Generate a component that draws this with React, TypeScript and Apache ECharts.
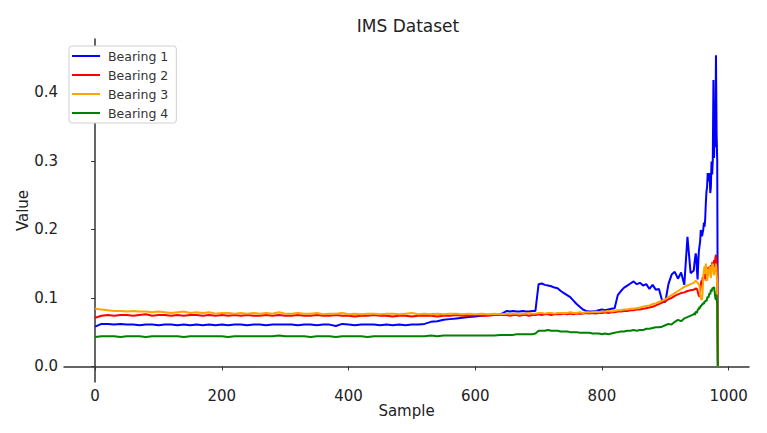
import React, { useEffect, useRef } from "react";
import * as echarts from "echarts";

// Sample index grids (x values)
const range = (a: number, b: number, step: number) => {
  const out: number[] = [];
  for (let v = a; v <= b; v += step) out.push(v);
  return out;
};
const samplesFlat = range(0, 640, 10);
const samplesMid = range(650, 940, 5);
const samplesTail = range(945, 983, 1);

const seriesNames = ["Bearing 1", "Bearing 2", "Bearing 3", "Bearing 4"];
const seriesColors = ["#0000ff", "#ff0000", "#ffa500", "#008000"];
const xTicks = [0, 200, 400, 600, 800, 1000];
const yTicks = [0, 0.1, 0.2, 0.3, 0.4];

// Bearing 1 (blue)
const b1Flat = [
  0.058, 0.062, 0.062, 0.061, 0.062, 0.061, 0.061, 0.060, 0.061, 0.061,
  0.060, 0.061, 0.061, 0.060, 0.061, 0.060, 0.061, 0.060, 0.061, 0.060,
  0.061, 0.060, 0.061, 0.061, 0.060, 0.061, 0.061, 0.060, 0.061, 0.061,
  0.061, 0.061, 0.060, 0.061, 0.061, 0.060, 0.061, 0.061, 0.059, 0.062,
  0.061, 0.060, 0.061, 0.061, 0.061, 0.060, 0.061, 0.060, 0.061, 0.060,
  0.061, 0.061, 0.062, 0.065, 0.066, 0.068, 0.069, 0.070, 0.071, 0.072,
  0.073, 0.074, 0.075, 0.075, 0.076,
];
const b1Mid = [
  0.081, 0.080, 0.081, 0.080, 0.080, 0.081, 0.080, 0.080, 0.081, 0.081,
  0.120, 0.121, 0.119, 0.118, 0.117, 0.115, 0.114, 0.110, 0.107, 0.104,
  0.101, 0.096, 0.091, 0.087, 0.083, 0.081, 0.080, 0.080, 0.081, 0.082,
  0.083, 0.082, 0.083, 0.084, 0.085, 0.104, 0.110, 0.115, 0.118, 0.121,
  0.124, 0.120, 0.122, 0.118, 0.120, 0.113, 0.119, 0.112, 0.113, 0.096,
  0.094, 0.120, 0.134, 0.138, 0.128, 0.137, 0.119, 0.189, 0.136,
];
const b1Tail = [
  0.140, 0.150, 0.158, 0.165, 0.160, 0.140, 0.127, 0.150, 0.168, 0.175,
  0.182, 0.199, 0.195, 0.190, 0.195, 0.200, 0.210, 0.204, 0.215, 0.238,
  0.255, 0.262, 0.282, 0.275, 0.270, 0.282, 0.253, 0.262, 0.299, 0.280,
  0.301, 0.418, 0.304, 0.350, 0.320, 0.454, 0.340, 0.300, 0.002,
];

// Bearing 2 (red)
const b2Flat = [
  0.071, 0.074, 0.075, 0.074, 0.075, 0.075, 0.074, 0.075, 0.076, 0.074,
  0.075, 0.075, 0.074, 0.075, 0.074, 0.075, 0.075, 0.074, 0.075, 0.074,
  0.075, 0.074, 0.075, 0.074, 0.075, 0.074, 0.074, 0.075, 0.074, 0.075,
  0.074, 0.074, 0.075, 0.074, 0.074, 0.075, 0.074, 0.074, 0.075, 0.074,
  0.074, 0.073, 0.074, 0.074, 0.075, 0.074, 0.074, 0.073, 0.074, 0.074,
  0.073, 0.074, 0.074, 0.074, 0.073, 0.074, 0.074, 0.075, 0.074, 0.074,
  0.075, 0.074, 0.074, 0.075, 0.075,
];
const b2Mid = [
  0.075, 0.074, 0.075, 0.075, 0.074, 0.075, 0.075, 0.074, 0.075, 0.075,
  0.076, 0.075, 0.076, 0.076, 0.075, 0.076, 0.076, 0.076, 0.077, 0.076,
  0.077, 0.076, 0.077, 0.077, 0.077, 0.078, 0.077, 0.078, 0.077, 0.078,
  0.078, 0.079, 0.078, 0.079, 0.079, 0.080, 0.080, 0.081, 0.081, 0.082,
  0.082, 0.083, 0.083, 0.084, 0.085, 0.086, 0.087, 0.089, 0.091, 0.093,
  0.095, 0.098, 0.100, 0.103, 0.105, 0.107, 0.108, 0.110, 0.111,
];
const b2Tail = [
  0.112, 0.113, 0.112, 0.114, 0.114, 0.113, 0.110, 0.106, 0.103, 0.102,
  0.108, 0.118, 0.125, 0.120, 0.130, 0.125, 0.135, 0.128, 0.140, 0.136,
  0.125, 0.140, 0.132, 0.145, 0.138, 0.146, 0.135, 0.148, 0.140, 0.152,
  0.142, 0.150, 0.155, 0.145, 0.158, 0.163, 0.150, 0.140, 0.001,
];

// Bearing 3 (orange)
const b3Flat = [
  0.084, 0.083, 0.082, 0.081, 0.081, 0.080, 0.081, 0.080, 0.080, 0.079,
  0.080, 0.079, 0.078, 0.079, 0.080, 0.078, 0.079, 0.078, 0.079, 0.077,
  0.078, 0.078, 0.077, 0.078, 0.077, 0.078, 0.077, 0.078, 0.077, 0.079,
  0.077, 0.077, 0.078, 0.077, 0.077, 0.078, 0.076, 0.077, 0.077, 0.078,
  0.076, 0.077, 0.076, 0.077, 0.077, 0.076, 0.077, 0.077, 0.076, 0.077,
  0.078, 0.076, 0.077, 0.076, 0.077, 0.076, 0.077, 0.077, 0.076, 0.077,
  0.076, 0.077, 0.076, 0.077, 0.076,
];
const b3Mid = [
  0.077, 0.076, 0.077, 0.077, 0.076, 0.077, 0.077, 0.078, 0.077, 0.077,
  0.078, 0.078, 0.077, 0.078, 0.078, 0.077, 0.078, 0.078, 0.078, 0.078,
  0.079, 0.078, 0.078, 0.079, 0.078, 0.079, 0.079, 0.079, 0.080, 0.079,
  0.080, 0.080, 0.081, 0.080, 0.081, 0.082, 0.082, 0.083, 0.083, 0.084,
  0.084, 0.085, 0.086, 0.087, 0.088, 0.089, 0.091, 0.092, 0.094, 0.096,
  0.098, 0.101, 0.104, 0.107, 0.110, 0.113, 0.116, 0.118, 0.120,
];
const b3Tail = [
  0.122, 0.123, 0.124, 0.125, 0.124, 0.123, 0.122, 0.121, 0.121, 0.118,
  0.105, 0.100, 0.098, 0.097, 0.110, 0.130, 0.140, 0.146, 0.135, 0.150,
  0.140, 0.125, 0.131, 0.142, 0.138, 0.146, 0.135, 0.129, 0.142, 0.148,
  0.150, 0.140, 0.133, 0.145, 0.138, 0.150, 0.135, 0.120, 0.000,
];

// Bearing 4 (green)
const b4Flat = [
  0.043, 0.044, 0.044, 0.044, 0.043, 0.044, 0.044, 0.044, 0.043, 0.044,
  0.044, 0.044, 0.044, 0.044, 0.043, 0.044, 0.044, 0.044, 0.044, 0.044,
  0.044, 0.043, 0.044, 0.044, 0.044, 0.044, 0.044, 0.044, 0.044, 0.045,
  0.044, 0.044, 0.044, 0.044, 0.043, 0.044, 0.044, 0.044, 0.043, 0.044,
  0.044, 0.044, 0.044, 0.043, 0.044, 0.044, 0.044, 0.044, 0.044, 0.044,
  0.044, 0.044, 0.044, 0.045, 0.044, 0.045, 0.045, 0.045, 0.045, 0.045,
  0.045, 0.045, 0.045, 0.045, 0.046,
];
const b4Mid = [
  0.046, 0.046, 0.046, 0.047, 0.047, 0.047, 0.047, 0.047, 0.047, 0.048,
  0.052, 0.052, 0.052, 0.053, 0.052, 0.052, 0.052, 0.051, 0.051, 0.051,
  0.050, 0.050, 0.050, 0.049, 0.049, 0.049, 0.049, 0.048, 0.048, 0.048,
  0.047, 0.048, 0.047, 0.048, 0.049, 0.050, 0.051, 0.051, 0.052, 0.052,
  0.053, 0.052, 0.053, 0.053, 0.055, 0.055, 0.056, 0.057, 0.057, 0.058,
  0.060, 0.062, 0.061, 0.065, 0.068, 0.066, 0.070, 0.072, 0.074,
];
const b4Tail = [
  0.076, 0.078, 0.075, 0.079, 0.080, 0.078, 0.082, 0.084, 0.083, 0.087,
  0.085, 0.089, 0.088, 0.091, 0.090, 0.093, 0.091, 0.095, 0.094, 0.097,
  0.095, 0.099, 0.102, 0.100, 0.104, 0.107, 0.105, 0.112, 0.109, 0.113,
  0.115, 0.114, 0.116, 0.108, 0.100, 0.097, 0.105, 0.090, 0.000,
];

const allSamples = [...samplesFlat, ...samplesMid, ...samplesTail];
const seriesValues = [
  [...b1Flat, ...b1Mid, ...b1Tail],
  [...b2Flat, ...b2Mid, ...b2Tail],
  [...b3Flat, ...b3Mid, ...b3Tail],
  [...b4Flat, ...b4Mid, ...b4Tail],
];

const FONT = "DejaVu Sans";

export default function App() {
  const ref = useRef<HTMLDivElement>(null);
  useEffect(() => {
    if (!ref.current) return;
    const chart = echarts.init(ref.current, undefined, { renderer: "svg" });
    chart.setOption({
      animation: false,
      backgroundColor: "#ffffff",
      textStyle: { fontFamily: FONT },
      grid: { left: 64, right: 18, top: 39, bottom: 51 },
      graphic: [
        {
          type: "text",
          x: 408,
          y: 26,
          style: {
            text: "IMS Dataset",
            fill: "#222",
            font: `17px '${FONT}'`,
            textAlign: "center",
            textVerticalAlign: "middle",
          },
        },
      ],
      legend: {
        orient: "vertical",
        left: 69,
        top: 46,
        icon: "rect",
        itemWidth: 28,
        itemHeight: 2,
        itemGap: 5,
        padding: [3, 8, 3, 3],
        borderColor: "#d0d0d0",
        borderWidth: 1,
        borderRadius: 3,
        backgroundColor: "#ffffff",
        textStyle: {
          fontFamily: FONT,
          fontSize: 12.5,
          color: "#333",
          lineHeight: 14,
          padding: [0, 0, 0, 3],
        },
        data: seriesNames,
      },
      xAxis: {
        type: "value",
        min: -49.15,
        max: 1032.15,
        name: "Sample",
        nameLocation: "middle",
        nameGap: 21,
        nameMoveOverlap: false,
        nameTextStyle: { fontFamily: FONT, fontSize: 15, color: "#222" },
        axisLine: { lineStyle: { color: "#333", width: 1.5 } },
        axisTick: { show: true, length: 4, customValues: xTicks, lineStyle: { color: "#333" } },
        axisLabel: {
          customValues: xTicks,
          margin: 6,
          fontFamily: FONT,
          fontSize: 15,
          color: "#222",
          formatter: (v: number) => String(v),
        },
        splitLine: { show: false },
      },
      yAxis: {
        type: "value",
        min: -0.02275,
        max: 0.47775,
        name: "Value",
        nameLocation: "middle",
        nameGap: 34,
        nameMoveOverlap: false,
        nameRotate: 90,
        nameTextStyle: { fontFamily: FONT, fontSize: 15, color: "#222" },
        axisLine: { show: true, lineStyle: { color: "#333", width: 1.5 } },
        axisTick: { show: true, length: 4, customValues: yTicks, lineStyle: { color: "#333" } },
        axisLabel: {
          customValues: yTicks,
          margin: 6,
          fontFamily: FONT,
          fontSize: 15,
          color: "#222",
          formatter: (v: number) => v.toFixed(1),
        },
        splitLine: { show: false },
      },
      series: seriesNames.map((name, i) => ({
        name,
        type: "line",
        showSymbol: false,
        symbol: "none",
        color: seriesColors[i],
        lineStyle: { width: 2, color: seriesColors[i] },
        data: allSamples.map((s, j) => [s, seriesValues[i][j]]),
        z: 2 + i,
      })),
    });
    return () => chart.dispose();
  }, []);
  return (
    <div
      ref={ref}
      style={{ position: "fixed", left: 0, top: 0, width: 767, height: 433 }}
    />
  );
}
